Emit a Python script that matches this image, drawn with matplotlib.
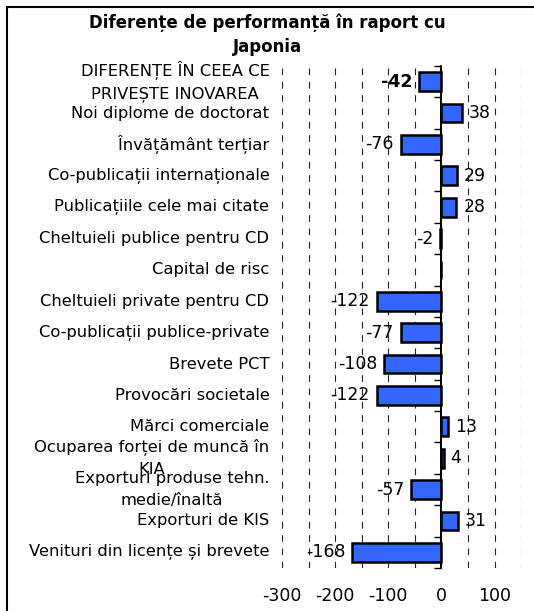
import numpy as np
import matplotlib.pyplot as plt
from matplotlib.patches import Rectangle

plt.rcParams['font.family'] = ['DejaVu Sans']

categories = [
    "DIFERENȚE ÎN CEEA CE\nPRIVEȘTE INOVAREA",
    "Noi diplome de doctorat",
    "Învățământ terțiar",
    "Co-publicații internaționale",
    "Publicațiile cele mai citate",
    "Cheltuieli publice pentru CD",
    "Capital de risc",
    "Cheltuieli private pentru CD",
    "Co-publicații publice-private",
    "Brevete PCT",
    "Provocări societale",
    "Mărci comerciale",
    "Ocuparea forței de muncă în\nKIA",
    "Exporturi produse tehn.\nmedie/înaltă",
    "Exporturi de KIS",
    "Venituri din licențe și brevete",
]
values = [-42, 38, -76, 29, 28, -2, np.nan, -122, -77, -108, -122, 13, 4, -57, 31, -168]
xticks = [-300, -200, -100, 0, 100]
grid_x = np.arange(-300, 151, 50)

fig = plt.figure(figsize=(5.34, 6.11), dpi=100)
ax = fig.add_axes([0.528, 0.0704, 0.976 - 0.528, 0.892 - 0.0704])

n = len(categories)
ypos = np.arange(n)
vals = np.nan_to_num(values)
ax.barh(ypos, vals, height=0.6, color='#3366FF', edgecolor='black', linewidth=1.8, zorder=3)

for y, v in zip(ypos, values):
    if np.isnan(v):
        continue
    off = 5 if v >= 0 else -5
    ha = 'left' if v >= 0 else 'right'
    ax.annotate(f"{v:g}", (v, y), xytext=(off, 0), textcoords='offset points',
                ha=ha, va='center', fontsize=12.5,
                fontweight='bold' if y == 0 else 'normal', zorder=4)

ax.set_xlim(-300, 150)
ax.set_ylim(n - 0.5, -0.5)
for gx in grid_x:
    if gx != 0:
        ax.axvline(gx, color='#222222', linewidth=0.8, linestyle=(0, (6, 6)), zorder=1)
ax.axvline(0, color='black', linewidth=1.2, zorder=2)

ax.set_yticks(ypos, categories, fontsize=11.8, multialignment='center', linespacing=1.55)
for lbl in ax.get_yticklabels():
    lbl.set_va('center')
ax.tick_params(axis='y', length=0, pad=9)
ax.set_xticks(xticks, [f"{t}" for t in xticks], fontsize=12.5)
ax.tick_params(axis='x', length=0, pad=14)
for s in ax.spines.values():
    s.set_visible(False)

# zero axis with ticks at category boundaries
loc0 = (0 - ax.get_xlim()[0]) / (ax.get_xlim()[1] - ax.get_xlim()[0])
sec = ax.secondary_yaxis(loc0)
sec.set_yticks(np.arange(-0.5, n, 1.0), [])
sec.tick_params(axis='y', length=5, width=1, direction='in')
for s in sec.spines.values():
    s.set_linewidth(1.2)

fig.text(0.5, 0.978, "Diferențe de performanță în raport cu\nJaponia", ha='center', va='top',
         fontsize=12, fontweight='bold', linespacing=1.4)

fig.patches.append(Rectangle((7 / 534, -0.1), 1.2, 1 - 7 / 611 + 0.1, transform=fig.transFigure,
                             fill=False, edgecolor='black', linewidth=1.5))

fig.savefig("out.png", dpi=100)
